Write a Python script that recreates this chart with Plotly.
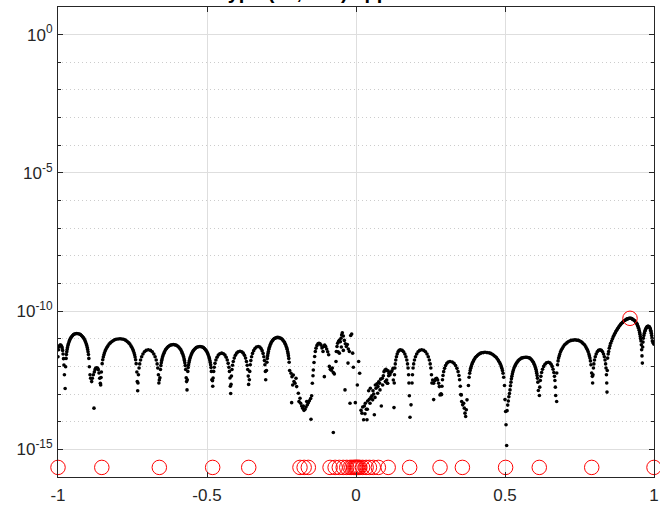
import numpy as np
import plotly.graph_objects as go

# ---------------------------------------------------------------------------
# Pointwise error |f(x) - r(x)| on [-1, 1], stored as (x, log10 error) pairs
# ---------------------------------------------------------------------------
err_left = [
    (-1.0000, -11.65), (-0.9980, -11.40), (-0.9960, -11.28), (-0.9940, -11.24), (-0.9920, -11.23),
    (-0.9900, -11.24), (-0.9880, -11.27), (-0.9860, -11.33), (-0.9845, -11.42), (-0.9830, -11.55),
    (-0.9815, -11.72), (-0.9800, -11.95), (-0.9785, -12.30), (-0.9760, -12.80),
    (-0.9744, -12.01), (-0.9729, -11.71), (-0.9717, -11.57), (-0.9705, -11.47), (-0.9694, -11.39),
    (-0.9682, -11.32), (-0.9666, -11.24), (-0.9651, -11.18), (-0.9631, -11.12), (-0.9612, -11.06),
    (-0.9588, -11.00), (-0.9565, -10.96), (-0.9538, -10.92), (-0.9510, -10.88), (-0.9479, -10.85),
    (-0.9448, -10.83), (-0.9409, -10.82), (-0.9370, -10.81),
    (-0.9326, -10.82), (-0.9282, -10.83), (-0.9247, -10.85), (-0.9212, -10.88), (-0.9181, -10.92),
    (-0.9150, -10.96), (-0.9124, -11.00), (-0.9097, -11.06), (-0.9075, -11.12), (-0.9053, -11.18),
    (-0.9036, -11.24), (-0.9018, -11.32), (-0.9005, -11.39), (-0.8992, -11.47), (-0.8978, -11.57),
    (-0.8965, -11.71), (-0.8948, -12.01),
    (-0.8926, -12.30), (-0.8905, -12.43), (-0.8870, -12.55), (-0.8848, -12.43), (-0.8814, -12.30),
    (-0.8792, -13.51), (-0.8781, -12.20), (-0.8758, -12.12), (-0.8736, -12.07), (-0.8702, -12.05),
    (-0.8669, -12.07), (-0.8647, -12.12), (-0.8624, -12.24), (-0.8600, -12.43), (-0.8580, -12.61),
    (-0.8568, -12.67), (-0.8555, -12.40),
    (-0.8544, -12.20), (-0.8518, -11.90), (-0.8499, -11.76), (-0.8479, -11.66), (-0.8460, -11.58),
    (-0.8440, -11.51), (-0.8414, -11.43), (-0.8388, -11.37), (-0.8356, -11.31), (-0.8323, -11.25),
    (-0.8284, -11.19), (-0.8245, -11.15), (-0.8200, -11.11), (-0.8154, -11.07), (-0.8102, -11.04),
    (-0.8050, -11.02), (-0.7985, -11.01), (-0.7920, -11.00),
    (-0.7861, -11.01), (-0.7802, -11.02), (-0.7755, -11.04), (-0.7708, -11.07), (-0.7666, -11.11),
    (-0.7625, -11.15), (-0.7590, -11.19), (-0.7554, -11.25), (-0.7525, -11.31), (-0.7495, -11.37),
    (-0.7472, -11.43), (-0.7448, -11.51), (-0.7430, -11.58), (-0.7413, -11.66), (-0.7395, -11.76),
    (-0.7377, -11.90), (-0.7354, -12.20), (-0.7340, -12.55), (-0.7326, -12.88),
    (-0.7316, -12.60), (-0.7301, -12.30), (-0.7280, -12.06), (-0.7258, -11.91), (-0.7229, -11.77),
    (-0.7193, -11.65), (-0.7150, -11.55), (-0.7100, -11.47), (-0.7042, -11.42), (-0.6970, -11.40),
    (-0.6896, -11.42), (-0.6837, -11.47), (-0.6785, -11.55), (-0.6741, -11.65), (-0.6704, -11.77),
    (-0.6674, -11.91), (-0.6652, -12.06), (-0.6630, -12.30), (-0.6615, -12.60), (-0.6600, -12.49),
    (-0.6581, -12.41), (-0.6562, -12.11), (-0.6548, -11.97), (-0.6534, -11.87), (-0.6520, -11.79),
    (-0.6506, -11.72), (-0.6487, -11.64), (-0.6468, -11.58), (-0.6445, -11.52), (-0.6421, -11.46),
    (-0.6393, -11.40), (-0.6365, -11.36), (-0.6332, -11.32), (-0.6299, -11.28), (-0.6262, -11.25),
    (-0.6224, -11.23), (-0.6177, -11.22), (-0.6130, -11.21),
    (-0.6085, -11.22), (-0.6040, -11.23), (-0.6004, -11.25), (-0.5968, -11.28), (-0.5937, -11.32),
    (-0.5905, -11.36), (-0.5878, -11.40), (-0.5851, -11.46), (-0.5829, -11.52), (-0.5806, -11.58),
    (-0.5788, -11.64), (-0.5770, -11.72), (-0.5757, -11.79), (-0.5743, -11.87), (-0.5730, -11.97),
    (-0.5716, -12.11), (-0.5698, -12.41), (-0.5685, -12.55), (-0.5670, -12.85),
    (-0.5662, -12.48), (-0.5644, -12.18), (-0.5631, -12.04), (-0.5618, -11.94), (-0.5604, -11.86),
    (-0.5591, -11.79), (-0.5573, -11.71), (-0.5555, -11.65), (-0.5533, -11.59), (-0.5511, -11.53),
    (-0.5484, -11.47), (-0.5458, -11.43), (-0.5426, -11.39), (-0.5395, -11.35), (-0.5360, -11.32),
    (-0.5324, -11.30), (-0.5280, -11.29), (-0.5235, -11.28),
    (-0.5194, -11.29), (-0.5152, -11.30), (-0.5119, -11.32), (-0.5086, -11.35), (-0.5057, -11.39),
    (-0.5028, -11.43), (-0.5003, -11.47), (-0.4978, -11.53), (-0.4957, -11.59), (-0.4936, -11.65),
    (-0.4920, -11.71), (-0.4903, -11.79), (-0.4891, -11.86), (-0.4878, -11.94), (-0.4866, -12.04),
    (-0.4853, -12.18), (-0.4837, -12.48), (-0.4815, -12.52),
    (-0.4807, -12.72), (-0.4795, -12.42), (-0.4776, -12.18), (-0.4757, -12.03), (-0.4732, -11.89),
    (-0.4701, -11.77), (-0.4663, -11.67), (-0.4620, -11.59), (-0.4570, -11.54), (-0.4507, -11.52),
    (-0.4447, -11.54), (-0.4398, -11.59), (-0.4356, -11.67), (-0.4320, -11.77), (-0.4290, -11.89),
    (-0.4265, -12.03), (-0.4247, -12.18), (-0.4229, -12.42), (-0.4217, -12.72), (-0.4205, -12.98),
    (-0.4193, -12.65), (-0.4180, -12.35), (-0.4161, -12.11), (-0.4143, -11.96), (-0.4118, -11.82),
    (-0.4086, -11.70), (-0.4049, -11.60), (-0.4005, -11.52), (-0.3955, -11.47), (-0.3893, -11.45),
    (-0.3833, -11.47), (-0.3784, -11.52), (-0.3742, -11.60), (-0.3706, -11.70), (-0.3676, -11.82),
    (-0.3651, -11.96), (-0.3633, -12.11), (-0.3615, -12.35), (-0.3603, -12.65),
    (-0.3579, -12.48), (-0.3566, -12.18), (-0.3547, -11.94), (-0.3529, -11.79), (-0.3504, -11.65),
    (-0.3472, -11.53), (-0.3435, -11.43), (-0.3391, -11.35), (-0.3341, -11.30), (-0.3279, -11.28),
    (-0.3227, -11.30), (-0.3186, -11.35), (-0.3150, -11.43), (-0.3118, -11.53), (-0.3092, -11.65),
    (-0.3072, -11.79), (-0.3056, -11.94), (-0.3041, -12.18), (-0.3030, -12.48),
    (-0.3004, -12.15), (-0.2989, -11.85), (-0.2977, -11.71), (-0.2965, -11.61), (-0.2953, -11.53),
    (-0.2941, -11.46), (-0.2926, -11.38), (-0.2910, -11.32), (-0.2890, -11.26), (-0.2871, -11.20),
    (-0.2847, -11.14), (-0.2824, -11.10), (-0.2796, -11.06), (-0.2769, -11.02), (-0.2737, -10.99),
    (-0.2706, -10.97), (-0.2666, -10.96), (-0.2627, -10.95),
    (-0.2585, -10.96), (-0.2544, -10.97), (-0.2510, -10.99), (-0.2477, -11.02), (-0.2448, -11.06),
    (-0.2419, -11.10), (-0.2394, -11.14), (-0.2369, -11.20), (-0.2348, -11.26), (-0.2327, -11.32),
    (-0.2310, -11.38), (-0.2293, -11.46), (-0.2281, -11.53), (-0.2268, -11.61), (-0.2256, -11.71),
    (-0.2243, -11.85), (-0.2227, -12.15),
]

err_center = [
    (-0.2181, -12.25), (-0.2159, -13.31), (-0.2148, -12.37), (-0.2125, -12.67), (-0.2103, -12.31),
    (-0.2081, -12.55), (-0.2047, -12.61), (-0.2013, -12.43), (-0.1991, -12.73), (-0.1935, -12.97),
    (-0.1913, -13.27), (-0.1879, -13.15), (-0.1857, -13.33), (-0.1823, -13.43), (-0.1789, -13.51),
    (-0.1767, -13.43), (-0.1745, -13.59), (-0.1711, -13.55), (-0.1678, -13.47), (-0.1655, -13.27),
    (-0.1633, -13.39), (-0.1600, -13.31), (-0.1566, -13.24), (-0.1521, -13.16), (-0.1510, -13.91),
    (-0.1488, -13.06), (-0.1465, -12.61), (-0.1443, -12.34), (-0.1432, -12.13), (-0.1409, -11.86),
    (-0.1387, -11.64), (-0.1365, -11.46), (-0.1342, -11.34), (-0.1309, -11.24), (-0.1275, -11.18),
    (-0.1242, -11.16), (-0.1208, -11.18), (-0.1174, -11.23), (-0.1141, -11.33), (-0.1107, -11.46),
    (-0.1085, -11.28), (-0.1062, -12.37), (-0.1051, -11.23), (-0.1018, -11.28), (-0.0984, -11.37),
    (-0.0950, -11.47), (-0.0917, -11.58), (-0.0895, -12.00), (-0.0861, -12.10), (-0.0828, -12.14),
    (-0.0794, -12.06), (-0.0761, -12.22), (-0.0761, -14.39), (-0.0727, -12.27), (-0.0671, -11.82),
    (-0.0660, -11.46), (-0.0638, -11.28), (-0.0615, -11.16), (-0.0604, -11.47), (-0.0582, -11.09),
    (-0.0559, -11.06), (-0.0559, -11.52), (-0.0526, -11.11), (-0.0503, -10.98), (-0.0492, -11.30),
    (-0.0481, -10.86), (-0.0459, -10.78), (-0.0425, -10.90), (-0.0425, -11.42), (-0.0391, -11.06),
    (-0.0369, -12.85), (-0.0358, -11.18), (-0.0324, -11.28), (-0.0291, -11.21), (-0.0268, -11.88),
    (-0.0257, -11.37), (-0.0223, -11.46), (-0.0201, -13.33), (-0.0178, -10.88), (-0.0145, -10.83),
    (-0.0112, -11.52), (-0.0089, -12.03), (-0.0022, -13.31), (0.0045, -12.67), (0.0089, -11.82),
    (0.0123, -12.25), (0.0168, -13.59), (0.0201, -13.69), (0.0224, -13.47), (0.0257, -13.93),
    (0.0280, -13.43), (0.0302, -13.71), (0.0313, -13.33), (0.0347, -13.55), (0.0369, -13.93),
    (0.0380, -13.55), (0.0391, -13.25), (0.0425, -12.88), (0.0447, -13.19), (0.0470, -13.33),
    (0.0481, -12.79), (0.0503, -13.12), (0.0537, -13.06), (0.0559, -13.21), (0.0570, -12.88),
    (0.0593, -13.00), (0.0615, -13.75), (0.0638, -13.12), (0.0649, -12.67), (0.0671, -12.79),
    (0.0705, -12.63), (0.0727, -12.97), (0.0738, -12.73), (0.0761, -12.56), (0.0794, -12.61),
    (0.0805, -12.85), (0.0828, -12.46), (0.0850, -13.43), (0.0884, -12.43), (0.0895, -12.67),
    (0.0917, -12.34), (0.0940, -12.19), (0.0973, -12.13), (0.0985, -12.55), (0.1007, -12.10),
    (0.1029, -12.15), (0.1029, -12.49), (0.1051, -12.61), (0.1063, -12.61), (0.1074, -12.16),
    (0.1096, -12.34), (0.1107, -12.25), (0.1130, -12.22), (0.1141, -12.30), (0.1174, -12.21),
    (0.1208, -12.16), (0.1242, -12.07), (0.1253, -12.49), (0.1275, -13.49),
]

err_right = [
    (0.1284, -12.60), (0.1292, -12.30), (0.1305, -12.06), (0.1318, -11.91), (0.1335, -11.77),
    (0.1357, -11.65), (0.1383, -11.55), (0.1413, -11.47), (0.1447, -11.42), (0.1490, -11.40),
    (0.1550, -11.42), (0.1598, -11.47), (0.1640, -11.55), (0.1675, -11.65), (0.1705, -11.77),
    (0.1729, -11.91), (0.1747, -12.06), (0.1765, -12.30), (0.1777, -12.60), (0.1790, -13.06),
    (0.1812, -13.84), (0.1846, -13.39),
    (0.1881, -12.60), (0.1895, -12.30), (0.1915, -12.06), (0.1935, -11.91), (0.1962, -11.77),
    (0.1996, -11.65), (0.2036, -11.55), (0.2083, -11.47), (0.2137, -11.42), (0.2204, -11.40),
    (0.2275, -11.42), (0.2333, -11.47), (0.2383, -11.55), (0.2425, -11.65), (0.2461, -11.77),
    (0.2490, -11.91), (0.2511, -12.06), (0.2532, -12.30), (0.2547, -12.60),
    (0.2573, -12.49), (0.2606, -12.61), (0.2606, -13.20), (0.2640, -12.52), (0.2673, -12.45),
    (0.2707, -12.43), (0.2740, -12.49), (0.2774, -12.61), (0.2796, -12.73), (0.2819, -13.03),
    (0.2852, -12.99),
    (0.2872, -13.02), (0.2884, -12.72), (0.2901, -12.48), (0.2919, -12.33), (0.2942, -12.19),
    (0.2972, -12.07), (0.3007, -11.97), (0.3048, -11.89), (0.3095, -11.84), (0.3154, -11.82),
    (0.3229, -11.84), (0.3289, -11.89), (0.3342, -11.97), (0.3387, -12.07), (0.3425, -12.19),
    (0.3455, -12.33), (0.3477, -12.48), (0.3500, -12.72), (0.3515, -13.02),
    (0.3535, -13.03), (0.3546, -13.27), (0.3579, -13.39), (0.3613, -13.33), (0.3635, -13.51),
    (0.3658, -13.69), (0.3680, -13.81), (0.3702, -13.57), (0.3725, -13.21),
    (0.3773, -12.69), (0.3796, -12.39), (0.3814, -12.25), (0.3831, -12.15), (0.3848, -12.07),
    (0.3866, -12.00), (0.3889, -11.92), (0.3912, -11.86), (0.3941, -11.80), (0.3970, -11.74),
    (0.4005, -11.68), (0.4040, -11.64), (0.4080, -11.60), (0.4121, -11.56), (0.4167, -11.53),
    (0.4213, -11.51), (0.4271, -11.50), (0.4329, -11.49),
    (0.4397, -11.50), (0.4465, -11.51), (0.4520, -11.53), (0.4574, -11.56), (0.4622, -11.60),
    (0.4670, -11.64), (0.4710, -11.68), (0.4751, -11.74), (0.4785, -11.80), (0.4819, -11.86),
    (0.4847, -11.92), (0.4874, -12.00), (0.4894, -12.07), (0.4915, -12.15), (0.4935, -12.25),
    (0.4956, -12.39), (0.4983, -12.69), (0.5000, -13.20), (0.5020, -13.63), (0.5035, -14.11),
    (0.5056, -14.86),
    (0.5070, -13.60), (0.5090, -13.40), (0.5112, -13.25), (0.5130, -13.10), (0.5150, -12.98),
    (0.5168, -12.85), (0.5185, -12.70), (0.5200, -12.57), (0.5215, -12.45), (0.5230, -12.36),
    (0.5248, -12.27), (0.5265, -12.19), (0.5285, -12.12), (0.5305, -12.05), (0.5330, -11.99),
    (0.5355, -11.94), (0.5380, -11.89), (0.5410, -11.84), (0.5440, -11.80), (0.5475, -11.76),
    (0.5510, -11.73), (0.5550, -11.70), (0.5590, -11.69), (0.5630, -11.68), (0.5680, -11.67),
    (0.5729, -11.67),
    (0.5770, -11.68), (0.5810, -11.69), (0.5843, -11.71), (0.5875, -11.74), (0.5904, -11.78),
    (0.5932, -11.82), (0.5956, -11.86), (0.5981, -11.92), (0.6001, -11.98), (0.6021, -12.04),
    (0.6038, -12.10), (0.6054, -12.18), (0.6066, -12.25), (0.6078, -12.33), (0.6090, -12.43),
    (0.6103, -12.57), (0.6119, -12.87),
    (0.6154, -13.05), (0.6166, -12.75), (0.6185, -12.51), (0.6204, -12.36), (0.6229, -12.22),
    (0.6260, -12.10), (0.6298, -12.00), (0.6341, -11.92), (0.6391, -11.87), (0.6454, -11.85),
    (0.6505, -11.87), (0.6547, -11.92), (0.6583, -12.00), (0.6613, -12.10), (0.6639, -12.22),
    (0.6660, -12.36), (0.6675, -12.51), (0.6690, -12.75), (0.6701, -13.05), (0.6734, -13.27),
    (0.6737, -12.24), (0.6762, -11.94), (0.6781, -11.80), (0.6800, -11.70), (0.6820, -11.62),
    (0.6839, -11.55), (0.6864, -11.47), (0.6890, -11.41), (0.6922, -11.35), (0.6953, -11.29),
    (0.6992, -11.23), (0.7030, -11.19), (0.7075, -11.15), (0.7119, -11.11), (0.7170, -11.08),
    (0.7221, -11.06), (0.7285, -11.05), (0.7349, -11.04),
    (0.7407, -11.05), (0.7465, -11.06), (0.7512, -11.08), (0.7559, -11.11), (0.7599, -11.15),
    (0.7640, -11.19), (0.7675, -11.23), (0.7710, -11.29), (0.7739, -11.35), (0.7768, -11.41),
    (0.7791, -11.47), (0.7815, -11.55), (0.7832, -11.62), (0.7850, -11.70), (0.7867, -11.80),
    (0.7884, -11.94), (0.7908, -12.24), (0.7931, -12.36),
    (0.7941, -12.60), (0.7952, -12.30), (0.7967, -12.06), (0.7982, -11.91), (0.8003, -11.77),
    (0.8029, -11.65), (0.8060, -11.55), (0.8096, -11.47), (0.8137, -11.42), (0.8188, -11.40),
    (0.8235, -11.42), (0.8273, -11.47), (0.8306, -11.55), (0.8334, -11.65), (0.8357, -11.77),
    (0.8376, -11.91), (0.8390, -12.06), (0.8404, -12.30), (0.8414, -12.60), (0.8423, -12.93),
    (0.8432, -12.15), (0.8445, -11.70), (0.8462, -11.55), (0.8479, -11.46), (0.8500, -11.34),
    (0.8523, -11.25), (0.8545, -11.16), (0.8579, -11.08), (0.8607, -11.00), (0.8635, -10.92),
    (0.8663, -10.86), (0.8691, -10.80), (0.8719, -10.74), (0.8747, -10.69), (0.8775, -10.64),
    (0.8803, -10.60), (0.8831, -10.55), (0.8859, -10.51), (0.8887, -10.47), (0.8915, -10.44),
    (0.8943, -10.41), (0.8971, -10.38), (0.8999, -10.35), (0.9027, -10.33), (0.9055, -10.31),
    (0.9083, -10.29), (0.9111, -10.28), (0.9139, -10.27), (0.9167, -10.26), (0.9195, -10.26),
    (0.9222, -10.26), (0.9250, -10.27), (0.9278, -10.29), (0.9306, -10.31), (0.9334, -10.33),
    (0.9362, -10.36), (0.9390, -10.40), (0.9418, -10.44), (0.9435, -10.48), (0.9452, -10.53),
    (0.9468, -10.57), (0.9485, -10.62), (0.9502, -10.69), (0.9519, -10.77), (0.9530, -10.84),
    (0.9541, -10.92), (0.9552, -11.00), (0.9564, -11.08), (0.9575, -11.22), (0.9586, -11.40),
    (0.9597, -11.62), (0.9609, -11.88),
    (0.9620, -11.30), (0.9631, -11.12), (0.9642, -10.98), (0.9659, -10.88), (0.9676, -10.80),
    (0.9692, -10.73), (0.9709, -10.68), (0.9726, -10.64), (0.9743, -10.60), (0.9760, -10.58),
    (0.9776, -10.56), (0.9793, -10.55), (0.9810, -10.55), (0.9826, -10.56), (0.9843, -10.57),
    (0.9860, -10.60), (0.9877, -10.64), (0.9888, -10.69), (0.9899, -10.74), (0.9910, -10.80),
    (0.9922, -10.88), (0.9933, -10.97), (0.9944, -11.08), (0.9966, -11.14), (1.0000, -11.20),
]

# Support points of the rational approximant (shown at machine epsilon)
support_x = [
    -1.000, -0.853, -0.660, -0.481, -0.360, -0.188, -0.174, -0.160,
    -0.087, -0.070, -0.056, -0.043, -0.031, -0.020, -0.014, -0.008, -0.004, -0.001,
    0.002, 0.005, 0.009, 0.013, 0.022, 0.034, 0.045, 0.058, 0.075,
    0.108, 0.180, 0.282, 0.357, 0.502, 0.615, 0.791, 1.000,
]
machine_eps = 2.220446049250313e-16

# Location and size of the maximum error
max_err_x = 0.9195
max_err = 5.5e-11

# Title text
title_text = "type (20, 100) approximation"

# y-axis decades
major_exps = [0, -5, -10, -15]
minor_exps = [-1, -2, -3, -4, -6, -7, -8, -9, -11, -12, -13, -14]
x_ticks = [-1, -0.5, 0, 0.5, 1]
x_tick_text = ["-1", "-0.5", "0", "0.5", "1"]

# ---------------------------------------------------------------------------
pts = err_left + err_center + err_right
err_x = [p[0] for p in pts]
err_y = [10.0 ** p[1] for p in pts]

ink = "#262626"
font_family = "Liberation Sans, Arial, Helvetica, sans-serif"

fig = go.Figure()

fig.add_trace(go.Scatter(
    x=err_x, y=err_y, mode="markers",
    marker=dict(color="black", size=3.6, line=dict(width=0)),
    hoverinfo="skip", showlegend=False,
))

fig.add_trace(go.Scatter(
    x=support_x, y=[machine_eps] * len(support_x), mode="markers",
    marker=dict(symbol="circle-open", size=14.5, color="red", line=dict(width=1, color="red")),
    cliponaxis=False, hoverinfo="skip", showlegend=False,
))

fig.add_trace(go.Scatter(
    x=[max_err_x], y=[max_err], mode="markers",
    marker=dict(symbol="circle-open", size=14.5, color="red", line=dict(width=1, color="red")),
    cliponaxis=False, hoverinfo="skip", showlegend=False,
))

fig.update_layout(
    width=660, height=507,
    margin=dict(l=58, r=6, t=7, b=30, autoexpand=False),
    paper_bgcolor="white", plot_bgcolor="white",
    font=dict(family=font_family, size=17, color=ink),
    showlegend=False,
)

fig.update_xaxes(
    range=[-1, 1], automargin=False,
    tickmode="array", tickvals=x_ticks, ticktext=x_tick_text,
    showgrid=True, gridcolor="#dedede", gridwidth=1,
    zeroline=False,
    showline=True, linecolor=ink, linewidth=1, mirror="ticks",
    ticks="inside", ticklen=5, tickcolor=ink, tickwidth=1,
    tickfont=dict(size=17, color=ink, family=font_family),
    ticklabelstandoff=3,
)

fig.update_yaxes(
    type="log", range=[-16, 1], automargin=False,
    tickmode="array",
    tickvals=[10.0 ** e for e in major_exps],
    ticktext=["10<sup>%d</sup>" % e for e in major_exps],
    showgrid=True, gridcolor="#dedede", gridwidth=1,
    zeroline=False,
    showline=True, linecolor=ink, linewidth=1, mirror="ticks",
    ticks="inside", ticklen=5, tickcolor=ink, tickwidth=1,
    tickfont=dict(size=17, color=ink, family=font_family),
    ticklabelstandoff=1,
    minor=dict(
        tickmode="array", tickvals=[10.0 ** e for e in minor_exps],
        ticks="inside", ticklen=3, tickcolor=ink,
        showgrid=True, gridcolor="#cccccc", griddash="1px,3px", gridwidth=1,
    ),
)

fig.add_annotation(
    text="<b>%s</b>" % title_text,
    xref="paper", yref="paper", x=0.5, y=1.0,
    xanchor="center", yanchor="bottom", yshift=2,
    showarrow=False,
    font=dict(size=20, color="black", family=font_family),
)

fig.write_html("out.html")
